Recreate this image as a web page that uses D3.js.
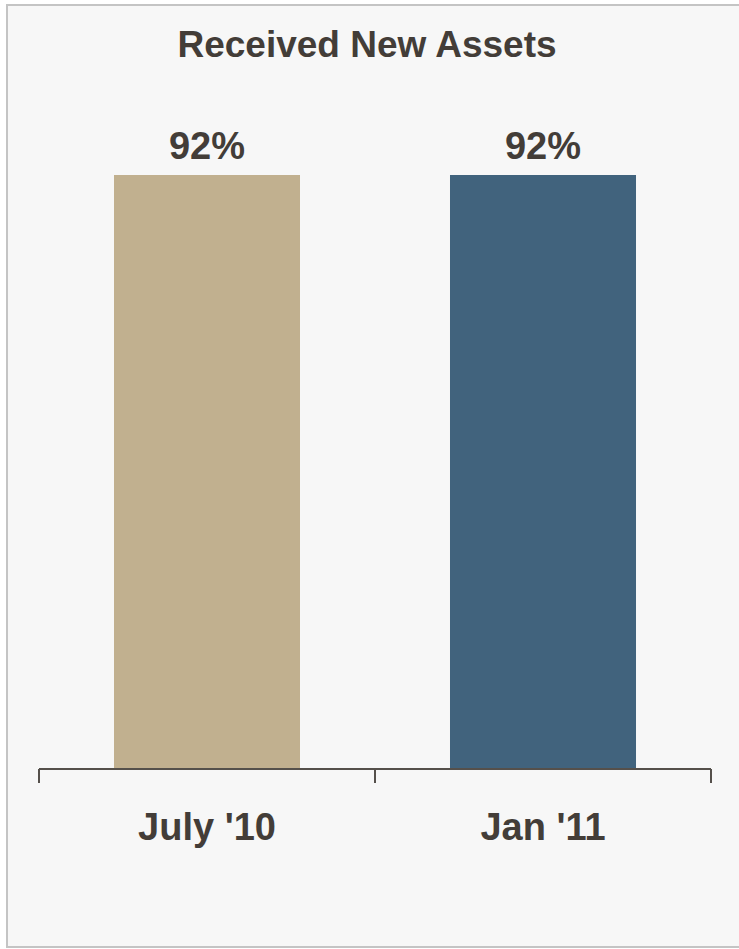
<!DOCTYPE html>
<html>
<head>
<meta charset="utf-8">
<script src="https://cdn.jsdelivr.net/npm/d3@7"></script>
<style>
  html, body { margin: 0; padding: 0; background: #ffffff; }
  svg { display: block; }
  text { font-family: "Liberation Sans", Arial, Helvetica, sans-serif; font-weight: bold; fill: #433d38; }
</style>
</head>
<body>
<script>
// Share of respondents that received new assets, by survey wave
const categories = ["July '10", "Jan '11"];
const values = [92, 92];
const valueLabels = ["92%", "92%"];
const barColors = ["#c1b08f", "#41637d"];
const title = "Received New Assets";

const width = 739, height = 949;

const svg = d3.select("body").append("svg")
  .attr("width", width)
  .attr("height", height);

// Panel background with a light grey frame (right edge runs past the window)
svg.append("rect")
  .attr("x", 7).attr("y", 5)
  .attr("width", 760).attr("height", 942)
  .attr("fill", "#f7f7f7")
  .attr("stroke", "#c4c4c4")
  .attr("stroke-width", 2);

const axisY = 769;

const x = d3.scaleBand()
  .domain(categories)
  .range([39, 711])
  .paddingInner(0.4464)
  .paddingOuter(0.2232);

const y = d3.scaleLinear()
  .domain([0, 100])
  .range([axisY, axisY - 594 / 0.92]);

// Title
svg.append("text")
  .attr("x", 367)
  .attr("y", 57)
  .attr("text-anchor", "middle")
  .style("font-size", "37px")
  .text(title);

// Bars
svg.selectAll("rect.bar")
  .data(values)
  .join("rect")
  .attr("class", "bar")
  .attr("x", (d, i) => x(categories[i]))
  .attr("y", d => y(d))
  .attr("width", x.bandwidth())
  .attr("height", d => y(0) - y(d))
  .attr("fill", (d, i) => barColors[i]);

// Value labels above bars
svg.selectAll("text.value")
  .data(values)
  .join("text")
  .attr("class", "value")
  .attr("x", (d, i) => x(categories[i]) + x.bandwidth() / 2)
  .attr("y", d => y(d) - 16)
  .attr("text-anchor", "middle")
  .style("font-size", "38px")
  .text((d, i) => valueLabels[i]);

// Category axis: baseline with ticks at the band boundaries
const step = x.step();
const boundaries = [0, 1, 2].map(i => x.range()[0] + i * step);

const axis = svg.append("g");
axis.append("line")
  .attr("x1", x.range()[0]).attr("x2", x.range()[1])
  .attr("y1", axisY).attr("y2", axisY)
  .attr("stroke", "#55504b")
  .attr("stroke-width", 2);

axis.selectAll("line.tick")
  .data(boundaries)
  .join("line")
  .attr("class", "tick")
  .attr("x1", d => d).attr("x2", d => d)
  .attr("y1", axisY).attr("y2", axisY + 14)
  .attr("stroke", "#55504b")
  .attr("stroke-width", 2);

axis.selectAll("text.cat")
  .data(categories)
  .join("text")
  .attr("class", "cat")
  .attr("x", d => x(d) + x.bandwidth() / 2)
  .attr("y", 840)
  .attr("text-anchor", "middle")
  .style("font-size", "38px")
  .text(d => d);
</script>
</body>
</html>
